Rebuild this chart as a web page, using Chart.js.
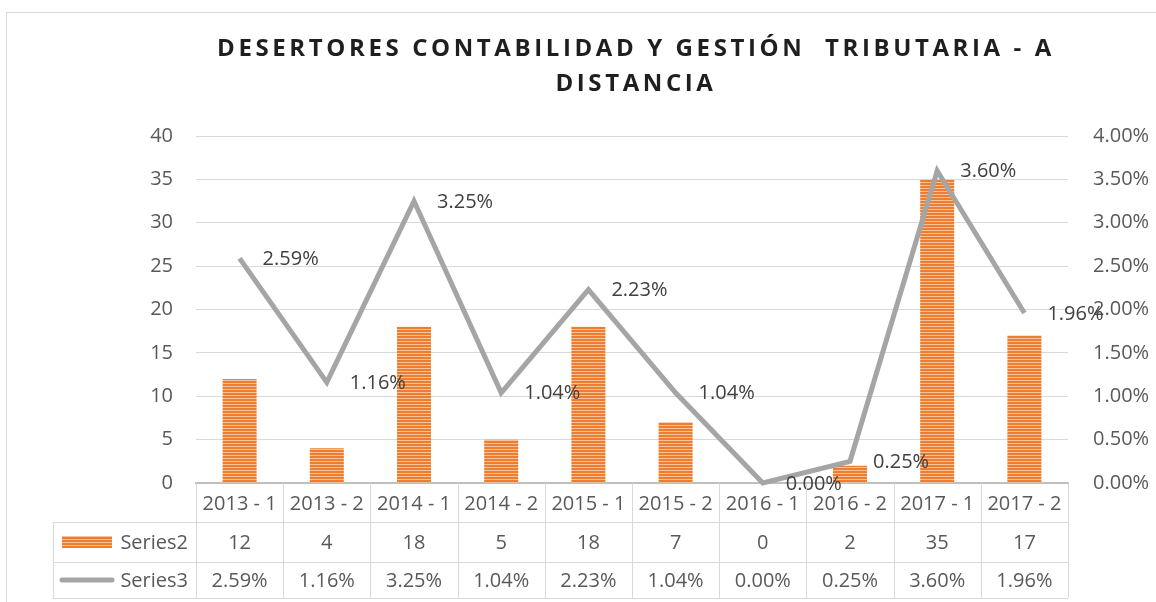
<!DOCTYPE html>
<html>
<head>
<meta charset="utf-8">
<script src="https://cdn.jsdelivr.net/npm/chart.js@4.4.1/dist/chart.umd.min.js"></script>
<style>
    html, body { margin: 0; padding: 0; background: #fff; }
    #wrap { position: relative; width: 1156px; height: 602px; overflow: hidden; }
    #frame {
        position: absolute; left: 6px; top: 12px; width: 1300px; height: 700px;
        border-left: 1px solid #d9d9d9; border-top: 1px solid #d9d9d9;
    }
    #title {
        position: absolute; left: 136px; top: 29px; width: 1000px;
        text-align: center; font-family: 'Open Sans', sans-serif; font-weight: bold;
        font-size: 24px; line-height: 35px; letter-spacing: 3.6px; color: #1f1f1f;
        white-space: pre;
    }
    #chart { position: absolute; left: 0; top: 0; }
</style>
</head>
<body>
<div id="wrap">
    <div id="frame"></div>
    <canvas id="chart" width="1156" height="602"></canvas>
    <div id="title">DESERTORES CONTABILIDAD Y GESTIÓN  TRIBUTARIA - A
DISTANCIA</div>
</div>
<script>
// Chart data
const categories = ['2013 - 1', '2013 - 2', '2014 - 1', '2014 - 2', '2015 - 1', '2015 - 2', '2016 - 1', '2016 - 2', '2017 - 1', '2017 - 2'];
const series2 = [12, 4, 18, 5, 18, 7, 0, 2, 35, 17];
const series3 = [2.59, 1.16, 3.25, 1.04, 2.23, 1.04, 0.00, 0.25, 3.60, 1.96]; // percent
const seriesNames = ['Series2', 'Series3'];

const FONT = "'Open Sans', sans-serif";
const TEXT = '#595959';
const GRID = '#d9d9d9';
const ORANGE = '#ED7D31';
const GREY = '#A5A5A5';

const pct = v => v.toFixed(2) + '%';

function stripePattern() {
    const c = document.createElement('canvas');
    c.width = 8; c.height = 3;
    const g = c.getContext('2d');
    g.fillStyle = ORANGE;
    g.fillRect(0, 0, 8, 3);
    g.fillStyle = '#F7C29A';
    g.fillRect(0, 2, 8, 1);
    return document.getElementById('chart').getContext('2d').createPattern(c, 'repeat');
}
const barFill = stripePattern();

// labels to the right of each line point
const lineLabels = {
    id: 'lineLabels',
    afterDatasetsDraw(chart) {
        const meta = chart.getDatasetMeta(1);
        const ctx = chart.ctx;
        ctx.save();
        ctx.font = `20px ${FONT}`;
        ctx.fillStyle = '#404040';
        ctx.textAlign = 'left';
        ctx.textBaseline = 'middle';
        meta.data.forEach((pt, i) => {
            ctx.fillText(pct(series3[i]), pt.x + 23, pt.y + 1);
        });
        ctx.restore();
    }
};

// data table under the plot
const dataTable = {
    id: 'dataTable',
    afterDraw(chart) {
        const ctx = chart.ctx;
        const area = chart.chartArea;
        const xs = chart.scales.x;
        const colW = (area.right - area.left) / categories.length;
        const tableLeft = 53;
        const rows = [area.bottom, area.bottom + 39, area.bottom + 79, area.bottom + 115];

        ctx.save();
        ctx.strokeStyle = GRID;
        ctx.lineWidth = 1;
        ctx.beginPath();
        for (let i = 0; i <= categories.length; i++) {
            const x = Math.round(area.left + i * colW) + 0.5;
            ctx.moveTo(x, rows[0]);
            ctx.lineTo(x, rows[3]);
        }
        ctx.moveTo(tableLeft + 0.5, rows[1]);
        ctx.lineTo(tableLeft + 0.5, rows[3]);
        for (let r = 1; r <= 3; r++) {
            ctx.moveTo(tableLeft, Math.round(rows[r]) + 0.5);
            ctx.lineTo(area.right, Math.round(rows[r]) + 0.5);
        }
        ctx.stroke();

        ctx.font = `20px ${FONT}`;
        ctx.fillStyle = TEXT;
        ctx.textAlign = 'center';
        ctx.textBaseline = 'middle';
        categories.forEach((c, i) => {
            const cx = xs.getPixelForValue(i);
            ctx.fillText(c, cx, (rows[0] + rows[1]) / 2 + 2);
            ctx.fillText(String(series2[i]), cx, (rows[1] + rows[2]) / 2 + 1);
            ctx.fillText(pct(series3[i]), cx, (rows[2] + rows[3]) / 2 + 1);
        });

        // legend keys
        const y2 = (rows[1] + rows[2]) / 2;
        const y3 = (rows[2] + rows[3]) / 2;
        ctx.fillStyle = barFill;
        ctx.fillRect(62, y2 - 6, 50, 12);
        ctx.strokeStyle = GREY;
        ctx.lineWidth = 5;
        ctx.lineCap = 'round';
        ctx.beginPath();
        ctx.moveTo(62, y3);
        ctx.lineTo(112, y3);
        ctx.stroke();

        ctx.fillStyle = TEXT;
        ctx.textAlign = 'right';
        ctx.fillText(seriesNames[0], 188, y2 + 1);
        ctx.fillText(seriesNames[1], 188, y3 + 1);
        ctx.restore();
    }
};

new Chart(document.getElementById('chart'), {
    type: 'bar',
    data: {
        labels: categories,
        datasets: [
            {
                type: 'bar',
                label: seriesNames[0],
                data: series2,
                yAxisID: 'y',
                backgroundColor: barFill,
                categoryPercentage: 1,
                barPercentage: 0.39,
                order: 1
            },
            {
                type: 'line',
                label: seriesNames[1],
                data: series3,
                yAxisID: 'y1',
                borderColor: GREY,
                borderWidth: 5,
                pointRadius: 0,
                tension: 0,
                clip: false,
                order: 0
            }
        ]
    },
    options: {
        responsive: false,
        animation: false,
        layout: { padding: { top: 136, bottom: 119, left: 0, right: 0 } },
        plugins: {
            legend: { display: false },
            tooltip: { enabled: false },
            title: { display: false }
        },
        scales: {
            x: {
                grid: { display: false },
                ticks: { display: false },
                border: { color: '#bfbfbf', width: 2 },
                afterFit: s => { s.height = 0; }
            },
            y: {
                position: 'left',
                min: 0,
                max: 40,
                ticks: { stepSize: 5, color: TEXT, padding: 23, font: { family: FONT, size: 20 } },
                grid: { color: GRID, drawTicks: false },
                border: { display: false },
                afterFit: s => { s.width = 196; }
            },
            y1: {
                position: 'right',
                min: 0,
                max: 4,
                ticks: { stepSize: 0.5, color: TEXT, padding: 25, font: { family: FONT, size: 20 }, callback: v => pct(v) },
                grid: { display: false, drawTicks: false },
                border: { display: false },
                afterFit: s => { s.width = 88; }
            }
        }
    },
    plugins: [lineLabels, dataTable]
});
</script>
</body>
</html>
